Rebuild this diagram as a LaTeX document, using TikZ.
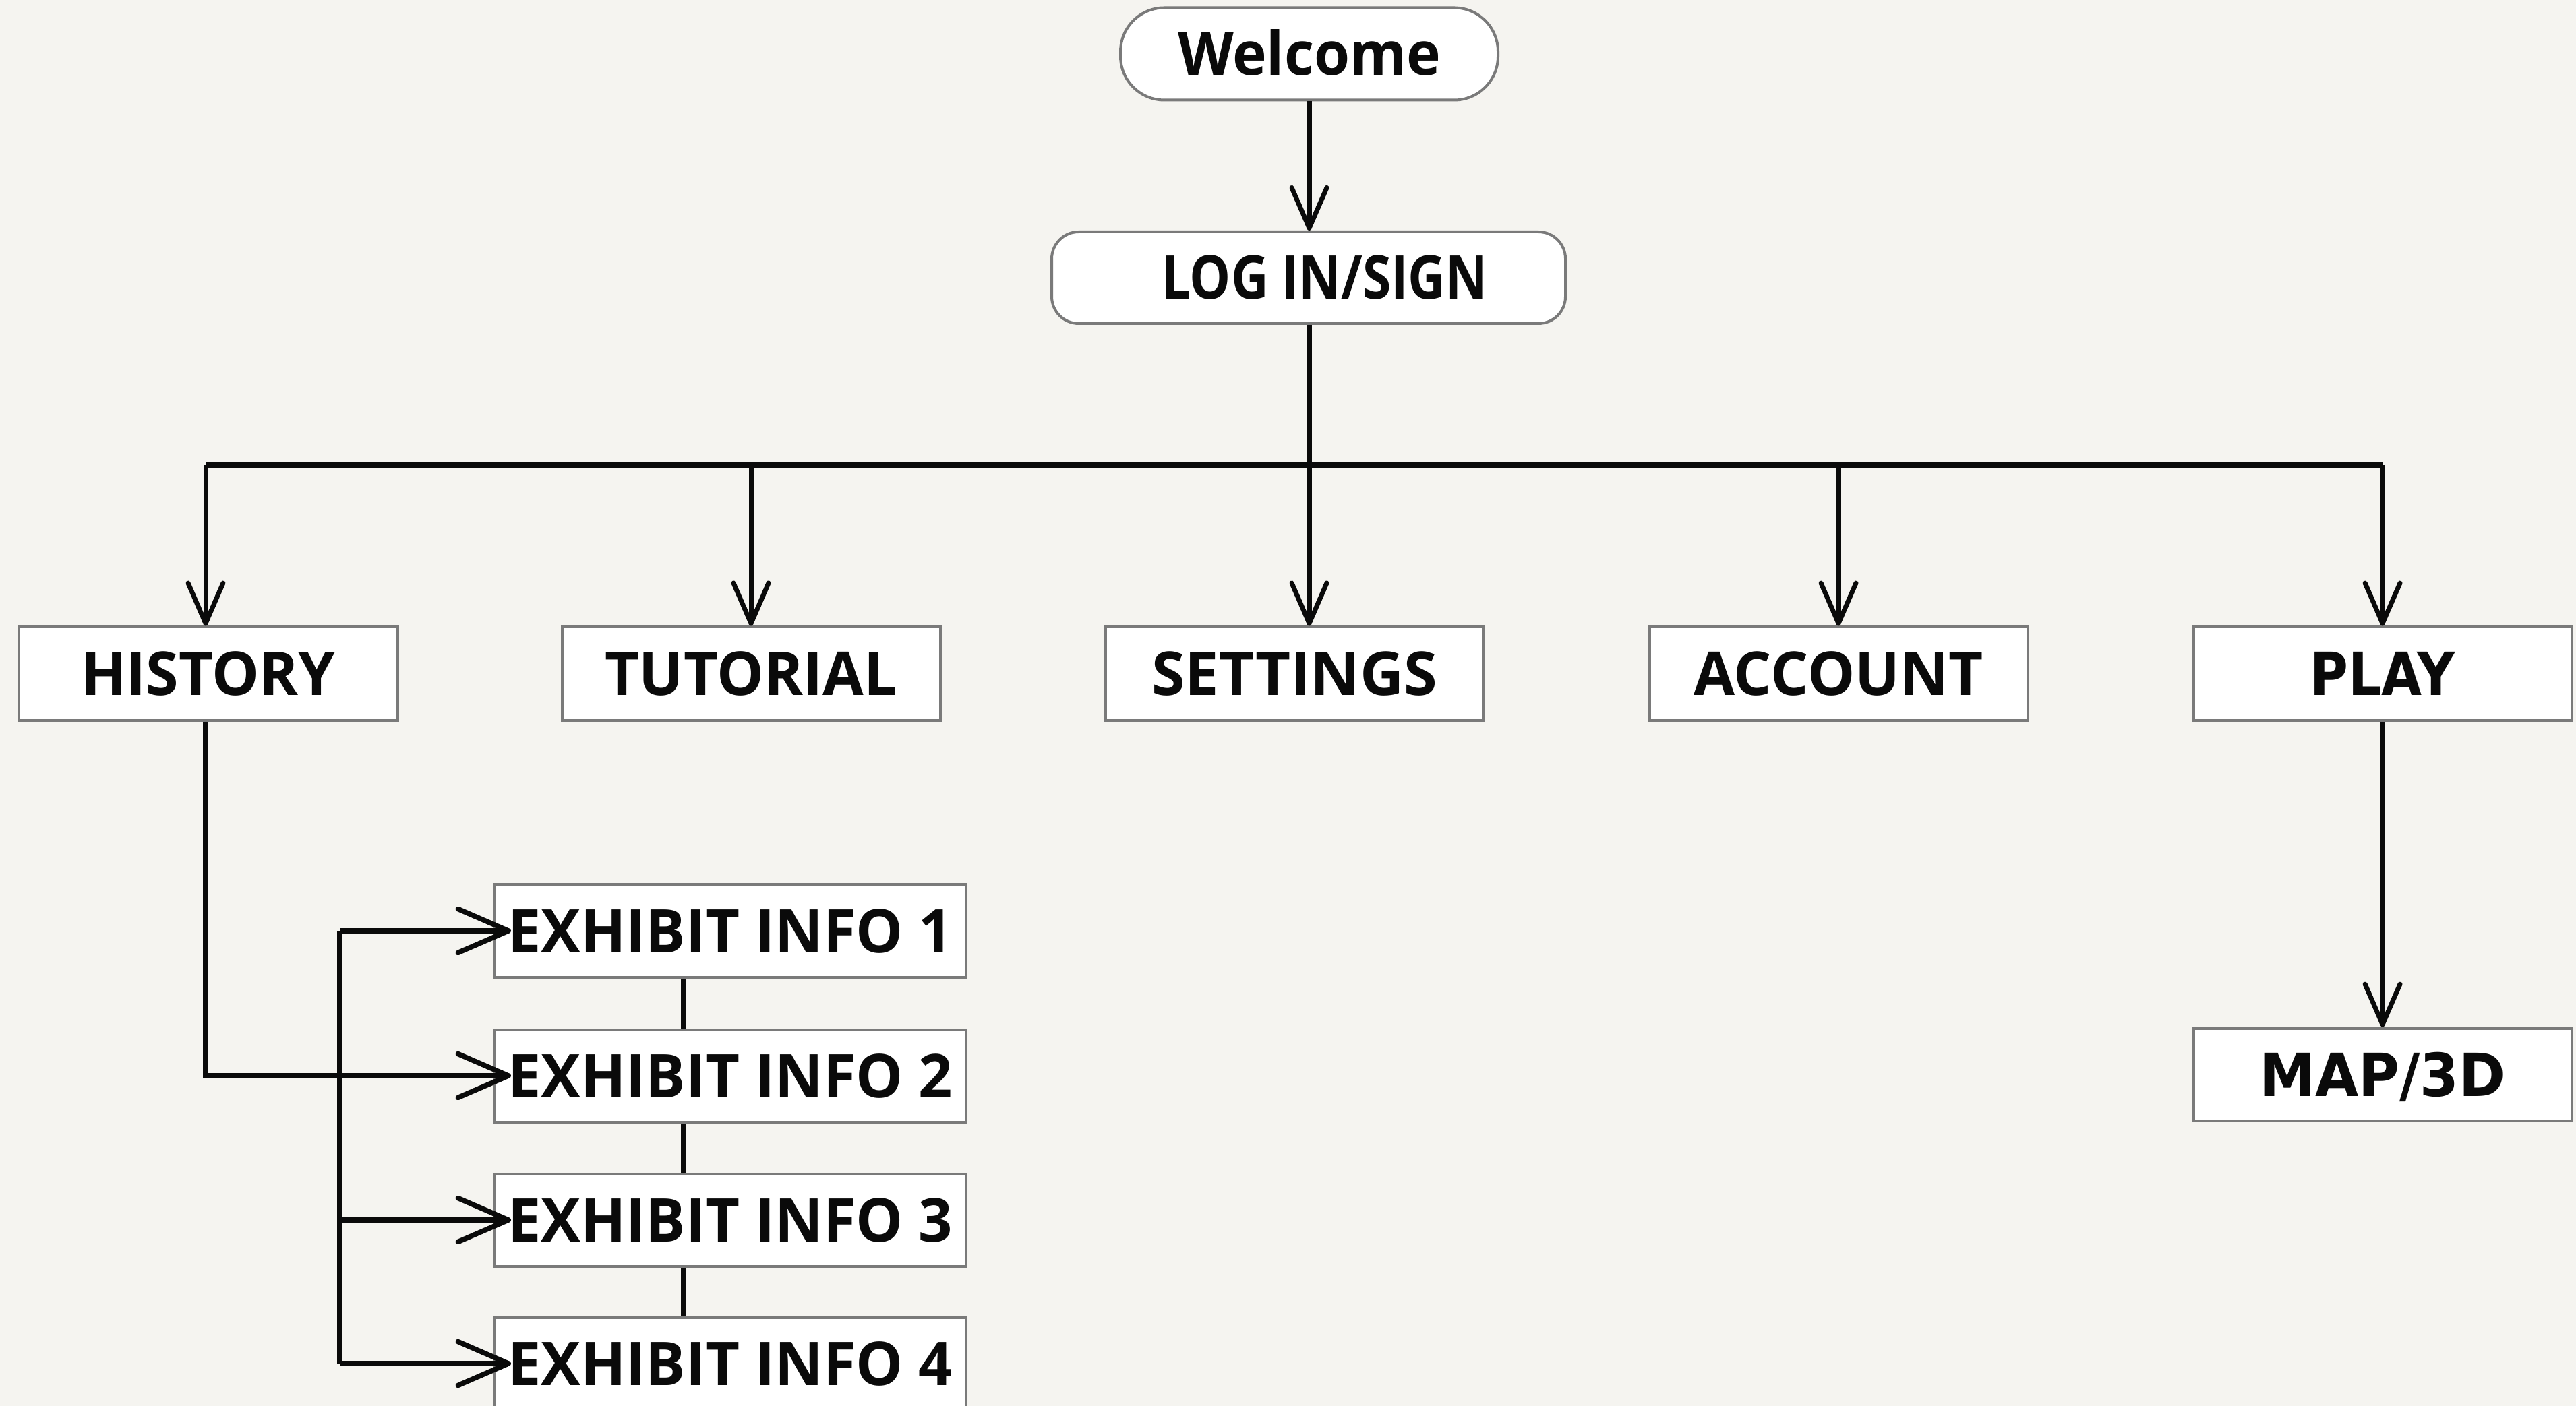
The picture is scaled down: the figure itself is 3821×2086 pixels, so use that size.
\documentclass[tikz,border=0pt]{standalone}
\usepackage{fontspec}
\usepackage{graphicx}
\usetikzlibrary{arrows.meta}
\newfontfamily\osfont{Open Sans}
\newfontfamily\dvfont{DejaVu Sans}
\definecolor{bg}{HTML}{F5F4F0}
\definecolor{boxgray}{HTML}{7A7A7A}
\definecolor{ink}{HTML}{0A0A0A}
\newcommand{\fitw}[2]{\resizebox{#1}{\height}{#2}}
\tikzset{
  box/.style={draw=boxgray, line width=0.8pt, fill=white, minimum width=112.2pt,
    minimum height=27.8pt, inner sep=0pt, text height=12.8pt, text depth=0pt,
    font=\fontsize{17.9pt}{20pt}\osfont\bfseries, text=ink},
  dvbox/.style={box, font=\fontsize{17.6pt}{20pt}\dvfont\bfseries},
  pill/.style={box, rounded corners=11pt},
  exbox/.style={box, minimum width=140pt, minimum height=27.4pt},
  conn/.style={draw=ink, line width=1.4pt},
  bus/.style={draw=ink, line width=1.9pt},
  arr/.style={conn, -{Straight Barb[length=12pt,width=10.4pt,round]}},
  exline/.style={draw=ink, line width=1.5pt},
  exarr/.style={exline, -{Straight Barb[length=15pt,width=13pt,round]}, shorten >=-5.4pt},
}
\begin{document}
\begin{tikzpicture}[x=0.2pt,y=-0.2pt]
\path[use as bounding box, fill=bg] (0,0) rectangle (3821,2086);
\clip (0,0) rectangle (3821,2086);

% top
\node[pill, rounded corners=13pt, minimum width=112pt, minimum height=27.4pt] (welcome) at (1942,80) {\fitw{78pt}{Welcome}};
\node[pill, rounded corners=8pt, minimum width=152.4pt, minimum height=27.2pt] (login) at (1941,412) {\hspace*{9.6pt}\fitw{96.8pt}{LOG IN/SIGN}};

% second level
\node[box] (history) at (309,1000) {\fitw{75.4pt}{HISTORY}};
\node[box] (tutorial) at (1114,1000) {\fitw{86.8pt}{TUTORIAL}};
\node[box] (settings) at (1920,1000) {\fitw{84.8pt}{SETTINGS}};
\node[box] (account) at (2727,1000) {\fitw{85.8pt}{ACCOUNT}};
\node[dvbox] (play) at (3534,1000) {\fitw{43pt}{PLAY}};
\node[dvbox, minimum height=27.4pt] (map) at (3534,1594) {\fitw{73pt}{MAP/3D}};

% exhibits
\node[exbox] (ex1) at (1083,1381) {\fitw{132pt}{EXHIBIT INFO 1}};
\node[exbox] (ex2) at (1083,1596) {\fitw{132pt}{EXHIBIT INFO 2}};
\node[exbox] (ex3) at (1083,1810) {\fitw{132pt}{EXHIBIT INFO 3}};
\node[exbox] (ex4) at (1083,2023) {\fitw{132pt}{EXHIBIT INFO 4}};

% coordinates
\coordinate (busL) at (305,690);
\coordinate (busT) at (1114,690);
\coordinate (busM) at (1942,690);
\coordinate (busA) at (2727,690);
\coordinate (busR) at (3534,690);
\coordinate (hx) at (305,1596);
\coordinate (b1) at (504,1381);
\coordinate (b3) at (504,1810);
\coordinate (b4) at (504,2023);
\coordinate (cx) at (1014,0);

% connectors
\draw[arr] (welcome.south) -- (welcome.south |- login.north);
\draw[conn] (busM |- login.south) -- (busM);
\draw[bus] (busL) -- (busR);
\draw[arr] (busL) -- (busL |- history.north);
\draw[arr] (busT) -- (busT |- tutorial.north);
\draw[arr] (busM) -- (busM |- settings.north);
\draw[arr] (busA) -- (busA |- account.north);
\draw[arr] (busR) -- (play.north);
\draw[arr] (play.south) -- (map.north);

\draw[exarr] (history.south -| hx) -- (hx) -- (ex2.west);
\draw[exline] (b1) -- (b4);
\draw[exarr] (b1) -- (ex1.west);
\draw[exarr] (b3) -- (ex3.west);
\draw[exarr] (b4) -- (ex4.west);

\draw[exline] (ex1.south -| cx) -- (ex2.north -| cx);
\draw[exline] (ex2.south -| cx) -- (ex3.north -| cx);
\draw[exline] (ex3.south -| cx) -- (ex4.north -| cx);
\end{tikzpicture}
\end{document}
